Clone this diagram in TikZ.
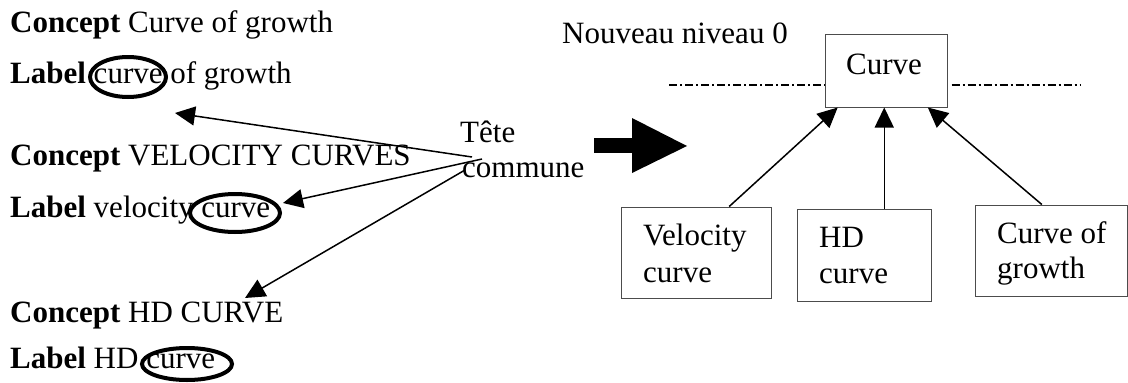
\documentclass[tikz,border=0pt]{standalone}
\usepackage{fontspec}
\setmainfont{Liberation Serif}
\usetikzlibrary{arrows.meta,shapes.geometric,calc}
\newcommand\bigf{\fontsize{31}{37}\selectfont}
\begin{document}
\begin{tikzpicture}[x=1pt,y=-1pt,
  txt/.style={inner sep=0pt, anchor=base west, font=\bigf},
  ring/.style={draw, ellipse, line width=4pt, inner sep=0pt},
  arr/.style={line width=1.5pt, -{Triangle[length=20pt,width=19pt]}},
  box/.style={draw=black!70, line width=1pt, inner sep=0pt},
  dashdot/.style={line width=1.2pt, dash pattern=on 8pt off 3pt on 2pt off 3pt}]
\useasboundingbox (0,0) rectangle (1128,383);
% left texts
\node[txt] (c1) at (10,32) {\textbf{Concept} Curve of growth};
\node[txt] (l1) at (10,83) {\textbf{Label} curve of growth};
\node[txt] (c2) at (10,165) {\textbf{Concept} VELOCITY CURVES};
\node[txt] (l2) at (10,217) {\textbf{Label} velocity curve};
\node[txt] (c3) at (10,322) {\textbf{Concept} HD CURVE};
\node[txt] (l3) at (10,368) {\textbf{Label} HD curve};
% ellipses
\node[ring, minimum width=76pt, minimum height=40pt] (e1) at (128,77) {};
\node[ring, minimum width=90pt, minimum height=38pt] (e2) at (235,213) {};
\node[ring, minimum width=90pt, minimum height=32pt] (e3) at (187,364) {};
% Tete commune
\node[txt] (tete) at (460,142) {Tête};
\node[txt] (commune) at (462,177) {commune};
\coordinate (s1) at (472,157);
\coordinate (t1) at (175,113);
\coordinate (s2) at (482,159);
\coordinate (t2) at (283,203);
\coordinate (s3) at (465,170);
\coordinate (t3) at (245,298);
\draw[arr] (s1) -- (t1);
\draw[arr] (s2) -- (t2);
\draw[arr] (s3) -- (t3);
% big arrow
\fill (594,138) rectangle (633,153);
\fill (632,118) -- (687,146) -- (632,173) -- cycle;
% right part
\node[txt] (nouveau) at (562,43) {Nouveau niveau 0};
\node[box, minimum width=122pt, minimum height=73pt] (curve) at (886,70.5) {};
\node[txt, anchor=base] (curvet) at (884,74) {Curve};
\coordinate (dl) at (669,85);
\coordinate (dr) at (1081,85);
\draw[dashdot] (dl) -- (dl -| curve.west);
\draw[dashdot] ([xshift=4pt]curve.east |- dr) -- (dr);
\node[box, minimum width=150pt, minimum height=91pt] (vel) at (696,252.5) {};
\node[box, minimum width=134pt, minimum height=92pt] (hd) at (864,255) {};
\node[box, minimum width=152pt, minimum height=91pt] (gro) at (1051,250.5) {};
\node[txt] (velt1) at (643,245) {Velocity};
\node[txt] (velt2) at (643,282) {curve};
\node[txt] (hdt1) at (819,247) {HD};
\node[txt] (hdt2) at (819,283) {curve};
\node[txt] (grot1) at (997,243) {Curve of};
\node[txt] (grot2) at (997,278) {growth};
\coordinate (velp) at ($(vel.north west)!0.72!(vel.north east)$);
\coordinate (hdp) at ($(hd.north west)!0.65!(hd.north east)$);
\coordinate (grop) at ($(gro.north west)!0.44!(gro.north east)$);
\coordinate (ct1) at ($(curve.south west)!0.107!(curve.south east)$);
\coordinate (ct3) at ($(curve.south west)!0.84!(curve.south east)$);
\draw[arr] (velp) -- (ct1);
\draw[arr] (hdp) -- (hdp |- curve.south);
\draw[arr] (grop) -- (ct3);
\end{tikzpicture}
\end{document}
